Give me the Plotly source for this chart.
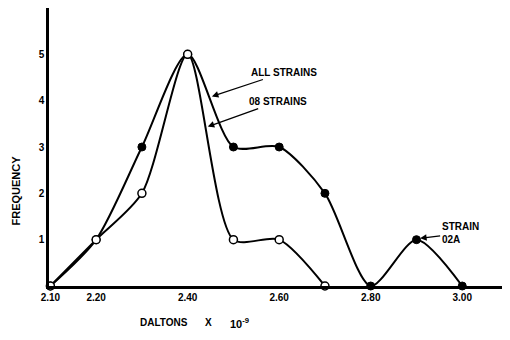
import plotly.graph_objects as go

daltons = [2.10, 2.20, 2.30, 2.40, 2.50, 2.60, 2.70, 2.80, 2.90, 3.00]
all_strains = [0, 1, 3, 5, 3, 3, 2, 0, 1, 0]
daltons_08 = [2.10, 2.20, 2.30, 2.40, 2.50, 2.60, 2.70]
strains_08 = [0, 1, 2, 5, 1, 1, 0]
x_tickvals = [2.10, 2.20, 2.40, 2.60, 2.80, 3.00]
x_ticktext = ["2.10", "2.20", "2.40", "2.60", "2.80", "3.00"]
y_tickvals = [1, 2, 3, 4, 5]

FONT = "Liberation Sans"

fig = go.Figure()
fig.add_trace(go.Scatter(
    x=daltons, y=all_strains, mode="lines+markers",
    line=dict(color="black", width=2, shape="spline", smoothing=0.75),
    marker=dict(size=8, color="black", line=dict(color="black", width=1)),
    cliponaxis=False, showlegend=False))
fig.add_trace(go.Scatter(
    x=daltons_08, y=strains_08, mode="lines+markers",
    line=dict(color="black", width=2, shape="spline", smoothing=0.75),
    marker=dict(size=8, color="white", line=dict(color="black", width=1.5)),
    cliponaxis=False, showlegend=False))

fig.update_layout(
    width=502, height=332,
    margin=dict(l=41, r=2, t=0, b=54),
    paper_bgcolor="white", plot_bgcolor="white",
    font=dict(family=FONT, color="black"),
    xaxis=dict(range=[2.097, 3.10], tickvals=x_tickvals, ticktext=x_ticktext,
               showgrid=False, zeroline=False, showline=True, linecolor="black",
               linewidth=2.5, ticks="", automargin=False,
               tickfont=dict(size=10, family=FONT, weight="bold")),
    yaxis=dict(range=[0, 6], tickvals=y_tickvals, showgrid=False, zeroline=False,
               showline=True, linecolor="black", linewidth=2.5, ticks="",
               automargin=False,
               tickfont=dict(size=10, family=FONT, weight="bold")),
    annotations=[
        dict(x=2.453, y=4.09, xref="x", yref="y", text="<b>ALL STRAINS</b>",
             showarrow=True, ax=72, ay=-24, arrowhead=2, arrowsize=1, arrowwidth=1.3,
             arrowcolor="black", font=dict(size=10, family=FONT)),
        dict(x=2.444, y=3.44, xref="x", yref="y", text="<b>08 STRAINS</b>",
             showarrow=True, ax=70, ay=-25, arrowhead=2, arrowsize=1, arrowwidth=1.3,
             arrowcolor="black", font=dict(size=10, family=FONT)),
        dict(x=2.908, y=1.03, xref="x", yref="y", text="<b>STRAIN<br>02A</b>",
             showarrow=True, ax=40, ay=-5, arrowhead=2, arrowsize=1, arrowwidth=1.3,
             arrowcolor="black", align="left", font=dict(size=10, family=FONT)),
        dict(x=-0.072, y=2.06, xref="paper", yref="y", xanchor="center", yanchor="middle",
             text="<b>FREQUENCY</b>",
             textangle=-90, showarrow=False, font=dict(size=11, family=FONT)),
        dict(x=0.194, y=-0.133, xref="paper", yref="paper", xanchor="left", yanchor="middle",
             text="<b>DALTONS</b>", showarrow=False, font=dict(size=10, family=FONT)),
        dict(x=0.348, y=-0.133, xref="paper", yref="paper", xanchor="center", yanchor="middle",
             text="<b>X</b>", showarrow=False, font=dict(size=10, family=FONT)),
        dict(x=0.389, y=-0.133, xref="paper", yref="paper", xanchor="left", yanchor="middle",
             text="<b>10<sup>-9</sup></b>", showarrow=False, font=dict(size=11, family=FONT)),
    ],
)

fig.write_html("out.html")
